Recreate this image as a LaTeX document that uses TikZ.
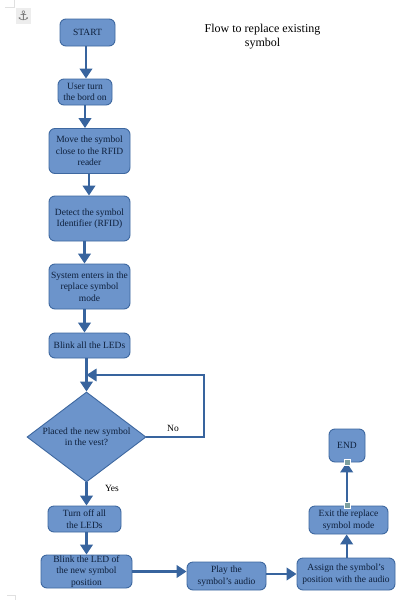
\documentclass[tikz,border=0pt]{standalone}
\usepackage{fontspec}
\setmainfont{Liberation Serif}
\newfontfamily\symfont{DejaVu Sans}
\usetikzlibrary{arrows.meta,shapes.geometric}
\definecolor{fillb}{RGB}{108,148,203}
\definecolor{edgeb}{RGB}{62,104,160}
\definecolor{linkb}{RGB}{56,100,158}
\definecolor{textb}{RGB}{14,32,60}
\definecolor{handleb}{RGB}{125,160,160}
\tikzset{
 flowbox/.style={draw=edgeb,line width=0.9pt,fill=fillb,rounded corners=6pt,align=center,text=textb,font=\fontsize{9.5}{11.5}\selectfont,inner sep=0pt},
 decision/.style={draw=edgeb,line width=0.9pt,fill=fillb,diamond,aspect=1.32,align=center,text=textb,font=\fontsize{9.5}{11.5}\selectfont,inner sep=0pt},
 link/.style={draw=linkb,line width=2.4pt,-{Triangle[length=10pt,width=12.5pt]}},
 plainlabel/.style={text=black,font=\fontsize{9.5}{11.5}\selectfont,inner sep=0pt,align=center},
 handle/.style={draw=white,line width=0.5pt,fill=handleb,minimum size=6pt,inner sep=0pt}
}
\begin{document}
\begin{tikzpicture}[x=1pt,y=-1pt]
\useasboundingbox (0,0) rectangle (401,600);
\fill[white] (0,0) rectangle (401,600);
\draw[black!12,line width=0.6pt] (14,0) -- (14,7) -- (5,7);
\draw[black!12,line width=0.6pt] (7,595) -- (15,595) -- (15,600);
\fill[black!7] (16,8) rectangle (31,24);
\node[flowbox,minimum width=55pt,minimum height=27pt] (start) at (87.5,32.5) {START};
\node[flowbox,minimum width=54pt,minimum height=26pt] (user) at (85,92) {User turn\\the bord on};
\node[flowbox,minimum width=81pt,minimum height=45pt] (move) at (89.5,151) {Move the symbol\\close to the RFID\\reader};
\node[flowbox,minimum width=81pt,minimum height=45pt] (detect) at (89.5,218.5) {Detect the symbol\\Identifier (RFID)};
\node[flowbox,minimum width=81pt,minimum height=45pt] (system) at (89.5,286.5) {System enters in the\\replace symbol\\mode};
\node[flowbox,minimum width=81pt,minimum height=25pt] (blink) at (89.5,345.5) {Blink all the LEDs};
\node[decision,minimum width=119pt,minimum height=90pt] (placed) at (86.5,437) {Placed the new symbol\\in the vest?};
\node[flowbox,minimum width=73pt,minimum height=26pt] (off) at (84.5,519) {Turn off all\\the LEDs};
\node[flowbox,minimum width=91pt,minimum height=33pt] (newled) at (86.5,571.5) {Blink the LED of\\the new symbol\\position};
\node[flowbox,minimum width=79pt,minimum height=28pt] (play) at (226.5,576) {Play the\\symbol's audio};
\node[flowbox,minimum width=98pt,minimum height=32pt] (assign) at (346,574) {Assign the symbol's\\position with the audio};
\node[flowbox,minimum width=79pt,minimum height=28pt] (exit) at (348.5,520) {Exit the replace\\symbol mode};
\node[flowbox,minimum width=36pt,minimum height=33pt] (end) at (347,445.5) {END};
\coordinate (loopa) at (204,437);
\coordinate (loopb) at (204,375);
\coordinate (loopc) at (86.5,375);
\draw[link] ([xshift=-1.5pt]start.south) -- ([xshift=1pt]user.north);
\draw[link] (user.south) -- (user.south |- move.north);
\draw[link] ([xshift=-0.5pt]move.south) -- ([xshift=-0.5pt]detect.north);
\draw[link] ([xshift=-5pt]detect.south) -- ([xshift=-5pt]system.north);
\draw[link] ([xshift=-5pt]system.south) -- ([xshift=-5pt]blink.north);
\draw[link] (blink.south -| placed.north) -- (placed.north);
\draw[link,line width=1.8pt] (placed.east) -- (loopa) -- (loopb) -- (loopc);
\draw[link] (placed.south) -- (placed.south |- off.north);
\draw[link] (off.south -| placed.south) -- (newled.north -| placed.south);
\draw[link] (newled.east) -- (newled.east -| play.west);
\draw[link] ([yshift=2pt]play.east) -- (assign.west);
\draw[link] ([xshift=0.7pt]assign.north) -- ([xshift=0.7pt]assign.north |- exit.south);
\draw[link] ([xshift=-1.8pt]exit.north) -- ([xshift=-0.3pt]end.south);
\node[handle] (h1) at ([xshift=-1.5pt]exit.north) {};
\node[handle] (h2) at (end.south) {};
\node[plainlabel] (no) at (173,428) {No};
\node[plainlabel] (yes) at (112,488) {Yes};
\node[plainlabel,font=\fontsize{12}{14}\selectfont] (title) at (262.5,37) {Flow to replace existing\\symbol};
\node[text=black!55,font=\symfont\fontsize{13}{13}\selectfont,inner sep=0pt] (anchor) at (23.5,16) {\symbol{"2693}};
\end{tikzpicture}
\end{document}
